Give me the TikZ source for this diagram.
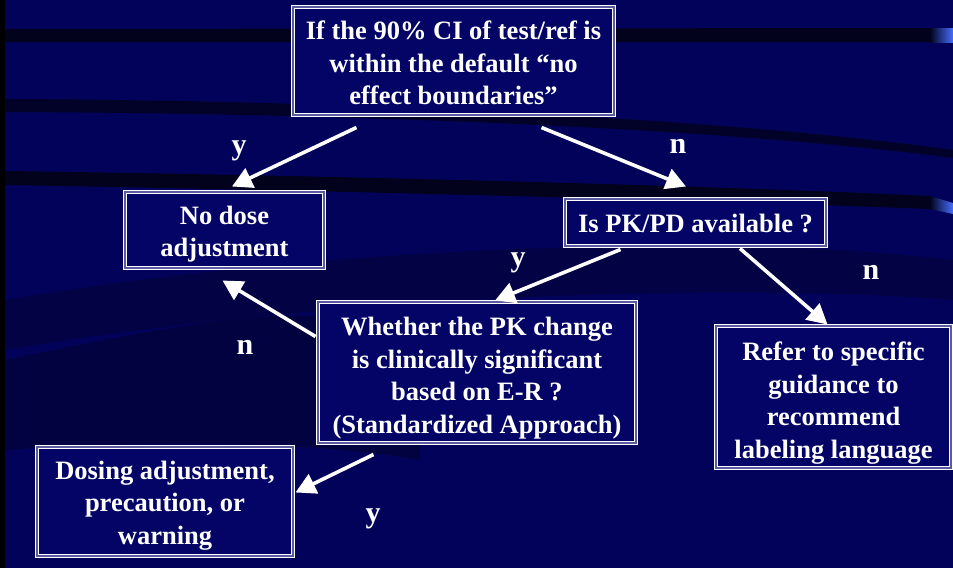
\documentclass[tikz,border=0pt]{standalone}
\usepackage{fontspec}
\setmainfont{Liberation Serif}
\usetikzlibrary{arrows.meta,calc}
\definecolor{bg}{RGB}{2,2,90}
\definecolor{boxfill}{RGB}{4,4,102}
\definecolor{boxgap}{RGB}{90,90,160}
\definecolor{band}{RGB}{2,2,28}
\definecolor{hilite}{RGB}{70,110,255}
\newcommand{\boxlines}[2]{\raisebox{-#1}[\height][\depth]{\begin{tabular}{@{}c@{}}#2\end{tabular}}}
\tikzset{
  box/.style={draw=white, line width=1pt, double=boxgap, double distance=1.8pt,
    fill=boxfill, inner sep=0pt, text=white,
    font=\bfseries\fontsize{26.5}{32.5}\selectfont},
  arr/.style={draw=white, line width=3.6pt, -{Triangle[length=20pt,width=21pt]}},
  lbl/.style={text=white, font=\bfseries\fontsize{30}{30}\selectfont, inner sep=0pt, anchor=base},
  swoosh/.style={fill=band}
}
\begin{document}
\begin{tikzpicture}[x=1pt,y=-1pt]
% background
\fill[bg] (0,0) rectangle (953,568);
\useasboundingbox (0,0) rectangle (953,568);
\fill[black] (0,0) rectangle (5,568);
% swooshes
\fill[swoosh] (5,29) -- (930,28) -- (930,42) -- (5,42) -- cycle;
\fill[swoosh, opacity=0.8] (5,99) .. controls (300,100) and (700,115) .. (953,150)
  -- (953,158) .. controls (700,125) and (300,113) .. (5,112) -- cycle;
\fill[swoosh] (5,171) .. controls (300,175) and (700,185) .. (930,196)
  -- (930,209) .. controls (700,200) and (300,190) .. (5,185) -- cycle;
\fill[swoosh, opacity=0.35] (5,300) .. controls (300,250) and (700,230) .. (953,260)
  -- (953,300) .. controls (700,280) and (300,300) .. (5,350) -- cycle;
\fill[swoosh, opacity=0.4] (5,360) .. controls (200,320) and (300,300) .. (420,330)
  -- (420,460) .. controls (300,440) and (150,440) .. (5,450) -- cycle;
\shade[left color=band, right color=hilite] (930,28) rectangle (953,42);
\shade[left color=band, right color=hilite] (930,196) -- (953,203) -- (953,214) -- (930,209) -- cycle;
% boxes
\node[box, minimum width=321pt, minimum height=108pt] (b1) at (453.5,61)
  {\boxlines{4.5pt}{If the 90\% CI of test/ref is\\within the default “no\\effect boundaries”}};
\node[box, minimum width=199pt, minimum height=76pt] (b2) at (224.5,230)
  {\boxlines{4pt}{No dose\\adjustment}};
\node[box, minimum width=261pt, minimum height=47pt] (b3) at (695.5,222.5)
  {\boxlines{3pt}{Is PK/PD available ?}};
\node[box, minimum width=318pt, minimum height=141pt] (b4) at (477,372.5)
  {\boxlines{5.5pt}{Whether the PK change\\is clinically significant\\based on E-R ?\\(Standardized Approach)}};
\node[box, minimum width=235pt, minimum height=142pt] (b5) at (833.5,397)
  {\boxlines{6pt}{Refer to specific\\guidance to\\recommend\\labeling language}};
\node[box, minimum width=256pt, minimum height=109pt] (b6) at (165,501.5)
  {\boxlines{3.5pt}{Dosing adjustment,\\precaution, or\\warning}};
% connectors
\draw[arr] ($(b1.south west)+(64,12)$) -- ($(b2.north)+(7.5,-5)$);
\draw[arr] ($(b1.south east)+(-73,12)$) -- ($(b3.north)+(-9.5,-12)$);
\draw[arr] ($(b3.south west)+(56,3)$) -- ($(b4.north)+(18,-1)$);
\draw[arr] ($(b3.south)+(44.5,2)$) -- ($(b5.north)+(-6,-1)$);
\draw[arr] ($(b4.north west)+(-2,35)$) -- ($(b2.south west)+(98,12)$);
\draw[arr] ($(b4.south west)+(56,11)$) -- ($(b6.east)+(2,-9)$);
% labels
\node[lbl] (ly1) at (239,154) {y};
\node[lbl] (ln1) at (678,153.5) {n};
\node[lbl] (ly2) at (518,266) {y};
\node[lbl] (ln2) at (871,279.5) {n};
\node[lbl] (ln3) at (245,354.5) {n};
\node[lbl] (ly3) at (373,522) {y};
\end{tikzpicture}
\end{document}
